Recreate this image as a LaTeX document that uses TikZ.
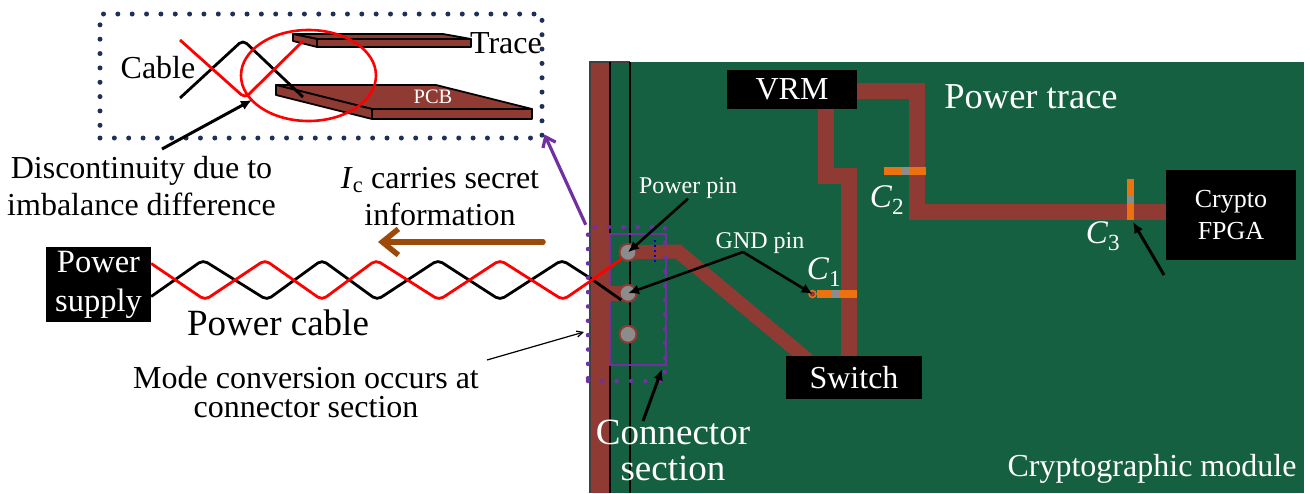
\documentclass[tikz,border=0pt]{standalone}
\usepackage{fontspec}
\setmainfont{Liberation Serif}
\usetikzlibrary{arrows.meta,shapes.geometric}
\pgfdeclarelayer{back}
\pgfsetlayers{back,main}
\definecolor{boardgreen}{HTML}{156040}
\definecolor{tracebrown}{HTML}{8F3A32}
\definecolor{caporange}{HTML}{EC7210}
\definecolor{capgray}{HTML}{8C8C8C}
\definecolor{dotpurple}{HTML}{7030A0}
\definecolor{dotnavy}{HTML}{1F3056}
\definecolor{flowbrown}{HTML}{9C4A0A}
\newcommand{\capsym}[1]{\textit{C}\textsubscript{#1}}
\tikzstyle{txt} = [align=center,inner sep=0pt,font=\fontsize{32}{37}\selectfont]
\tikzstyle{whitetxt} = [txt,text=white]
\tikzstyle{blackbox} = [whitetxt,fill=black,inner sep=0pt]
\tikzstyle{pin} = [circle,draw=tracebrown,fill=capgray,line width=2pt,minimum size=17pt,inner sep=0pt]
\tikzstyle{trace} = [draw=tracebrown,line width=16pt]
\tikzstyle{capbar} = [draw=caporange,line width=8pt]
\tikzstyle{capmid} = [draw=capgray,line width=8pt]
\tikzstyle{arrow} = [->,line width=2.6pt,black]
\tikzstyle{twist} = [line width=2.8pt,rounded corners=5pt]
\tikzstyle{dotline} = [line cap=round,line width=5pt,dash pattern=on 0pt off 14.35pt]
\tikzstyle{slab} = [fill=tracebrown,draw=black,line width=1.8pt,line join=round]
\begin{document}
\begin{tikzpicture}[x=1pt,y=-1pt,node distance=41pt,>={Latex[length=11pt,width=10pt]}]
	\useasboundingbox (0,0) rectangle (1310,493);
	% boxes
	\node (vrm) [blackbox,minimum width=130pt,minimum height=39pt] at (792,89.5) {VRM};
	\node (switch) [blackbox,minimum width=136pt,minimum height=43pt] at (854,377.5) {Switch};
	\node (fpga) [blackbox,minimum width=130pt,minimum height=90pt,font=\fontsize{26}{32}\selectfont] at (1231,215) {Crypto\\FPGA};
	\node (psu) [blackbox,minimum width=105pt,minimum height=75pt,font=\fontsize{32.5}{39}\selectfont] at (98.5,284.5) {Power\\supply};
	% pins
	\node (pin1) [pin] at (628,252.3) {};
	\node (pin2) [pin,below of=pin1] {};
	\node (pin3) [pin,below of=pin2] {};
	% board and traces
	\begin{pgfonlayer}{back}
		\fill [boardgreen] (590,62) rectangle (1304,493);
		\fill [tracebrown] (591,62) rectangle (610,493);
		\draw [black!75,line width=1.5pt] (590,493) -- (590,62) -- (630,62);
		\draw [black,line width=2pt] (610,62) -- (610,493);
		\draw [black,line width=2pt] (629.5,62) -- (629.5,493);
		\node (consec) [draw=dotpurple,line width=2pt,minimum width=56pt,minimum height=131pt,inner sep=0pt] at (638,299.5) {};
		\coordinate (tra) at (917,91);
		\coordinate (trb) at (917,212);
		\coordinate (trc) at (825.5,176);
		\coordinate (trd) at (849,176);
		\coordinate (tre) at (678,251.5);
		\coordinate (trf) at (808,360);
		\draw [trace] (vrm.east |- tra) -- (tra) -- (trb) -- (fpga.west |- trb);
		\draw [trace] (vrm.south -| trc) -- (trc) -- (trd) -- (switch.north -| trd);
		\draw [trace,line width=14pt] (pin1.center) -- (tre) -- (trf);
		\draw [trace,line width=15pt] (pin2.center) -- (pin2.center -| 591,0);
	\end{pgfonlayer}
	% inset
	\node (inset) [dotline,draw=dotnavy,minimum width=442pt,minimum height=124pt,inner sep=0pt] at (321,76) {};
	\filldraw [slab] (293,34) -- (443,34) -- (471,39) -- (317,39) -- cycle;
	\filldraw [slab] (293,34) -- (317,39) -- (317,47) -- (293,41) -- cycle;
	\filldraw [slab] (317,39) rectangle (471,47);
	\filldraw [slab] (276,85) -- (436,85) -- (532,109) -- (372,109) -- cycle;
	\filldraw [slab] (276,85) -- (372,109) -- (372,119) -- (276,95) -- cycle;
	\filldraw [slab] (372,109) rectangle (532,119);
	\node (pcb) [whitetxt,font=\fontsize{20.5}{22}\selectfont] at (433,97) {PCB};
	\draw [twist,black] (180,98) -- (243,40) -- (303,97);
	\draw [twist,red] (180,40) -- (245,98) -- (303,41);
	\node (spot) [ellipse,draw=red,line width=2.6pt,minimum width=135pt,minimum height=91pt,inner sep=0pt] at (308.5,75.5) {};
	\node (cabletxt) [txt] at (158,68) {Cable};
	\node (tracetxt) [txt] at (506,43) {Trace};
	\node (disctxt) [txt] at (141.5,186) {Discontinuity due to\\imbalance difference};
	% twisted cable
	\draw [twist,black] ([yshift=-12pt]psu.east) -- (203,260) -- (267,300) -- (322,260) -- (377,300) -- (438,260) -- (500,300) -- (562,260) -- (590,278) -- (pin2.-135);
	\draw [twist,red] ([yshift=21pt]psu.east) -- (205,300) -- (265,260) -- (322,300) -- (376,260) -- (439,300) -- (500,260) -- (563,300) -- (592,280) -- (pin1.-135);
	\node (cabtxt) [txt,font=\fontsize{37}{40}\selectfont] at (278,323) {Power cable};
	% capacitors
	\node (cpad) [circle,draw=caporange,fill=tracebrown,line width=1.5pt,minimum size=7pt,inner sep=0pt] at (812.5,294) {};
	\draw [capbar] (cpad.east) -- (857,294);
	\draw [capmid] (832,294) -- (840,294);
	\draw [capbar] (884,171) -- (925.5,171);
	\draw [capmid] (901,171) -- (909,171);
	\draw [capbar,line width=7pt] (1130.5,179) -- (1130.5,220);
	\draw [capmid,line width=7pt] (1130.5,195) -- (1130.5,204);
	\node (c1txt) [whitetxt,font=\fontsize{33}{37}\selectfont] at (824,272) {\capsym{1}};
	\node (c2txt) [whitetxt,font=\fontsize{33}{37}\selectfont] at (887,200) {\capsym{2}};
	\node (c3txt) [whitetxt,font=\fontsize{33}{37}\selectfont] at (1103,236) {\capsym{3}};
	% labels
	\node (ptrace) [whitetxt,font=\fontsize{36.5}{38}\selectfont] at (1031,97) {Power trace};
	\node (pwrtxt) [whitetxt,font=\fontsize{24}{26}\selectfont] at (688,188) {Power pin};
	\node (gndtxt) [whitetxt,font=\fontsize{24}{26}\selectfont] at (760,243) {GND pin};
	\node (modtxt) [whitetxt,font=\fontsize{37}{36}\selectfont] at (673,450) {Connector\\section};
	\node (modeconv) [txt,font=\fontsize{32}{29}\selectfont] at (306,392) {Mode conversion occurs at\\connector section};
	\node (ictxt) [txt] at (440,197) {\textit{I}\textsubscript{c} carries secret\\information};
	\node (cmod) [whitetxt] at (1152,469) {Cryptographic module};
	% dotted section
	\node (secdots) [dotline,draw=dotpurple,line width=4.5pt,minimum width=77pt,minimum height=154pt,inner sep=0pt] at (626.5,304) {};
	\draw [draw=blue!80!black,line width=1.5pt,dash pattern=on 2pt off 3pt] (655,240) -- (655,263);
	% arrows
	\coordinate (gndp) at (743,252);
	\draw [arrow] (pwrtxt.south) -- (pin1.center);
	\draw [arrow] (gndp) -- (pin2.center);
	\draw [arrow] (gndp) -- (cpad.center);
	\coordinate (cfree) at (1164,275);
	\coordinate (ctip) at (1133,222);
	\draw [arrow,line width=3pt] (cfree) -- (ctip);
	\coordinate (dfree) at (162,149);
	\coordinate (dtip) at (252,100);
	\draw [arrow,line width=3pt] (dfree) -- (dtip);
	\coordinate (mfree) at (487,360);
	\draw [->,line width=1.2pt,black,>={Straight Barb[length=6pt,width=6pt]}] (mfree) -- (584,332);
	\coordinate (sfree) at (643,421);
	\draw [arrow,line width=3pt] (sfree) -- ([xshift=-5pt,yshift=-3pt]consec.south east);
	\draw [->,draw=dotpurple,line width=3.2pt,>={Straight Barb[length=9pt,width=14pt]}] (secdots.north west) -- ([yshift=6pt]inset.south east);
	\coordinate (ffree) at (543,242);
	\coordinate (ftip) at (378,242);
	\draw [->,draw=flowbrown,line width=5.5pt,line cap=round,>={Straight Barb[length=16pt,width=26pt]}] (ffree) -- (ftip);
\end{tikzpicture}
\end{document}
